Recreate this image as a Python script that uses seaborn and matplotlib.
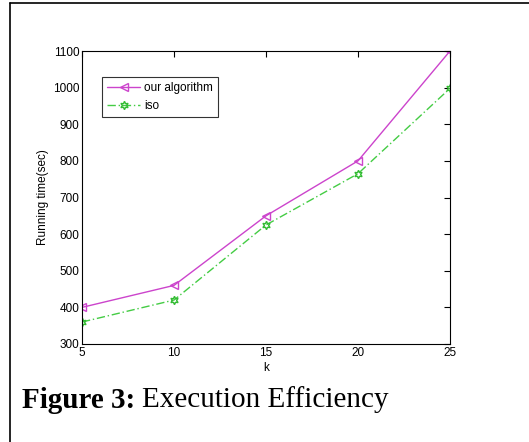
import pandas as pd
import matplotlib.pyplot as plt
import seaborn as sns
from matplotlib.lines import Line2D

# datos
k = [5, 10, 15, 20, 25]
our_algorithm = [400, 460, 650, 800, 1100]
iso = [360, 420, 625, 765, 998]

sns.set_style("white")
plt.rcParams['font.family'] = ['Liberation Sans', 'DejaVu Sans']
plt.rcParams['text.color'] = 'black'
plt.rcParams['axes.labelcolor'] = 'black'
plt.rcParams['xtick.color'] = 'black'
plt.rcParams['ytick.color'] = 'black'

fig = plt.figure(figsize=(5.29, 4.42), dpi=100)
ax = fig.add_axes([82/529, 1 - 344/442, (450-82)/529, (344-51)/442])

sns.lineplot(x=k, y=our_algorithm, ax=ax, color='#cc44cc', lw=1.0,
             marker='<', markersize=6, markerfacecolor='none',
             markeredgecolor='#cc44cc', markeredgewidth=1.0,
             label='our algorithm')
sns.lineplot(x=k, y=iso, ax=ax, color='#44cc44', lw=1.0, linestyle=(0, (6, 2, 1, 2)),
             marker=(6, 1, 0), markersize=6, markerfacecolor='none',
             markeredgecolor='#33bb33', markeredgewidth=1.0,
             label='iso')

ax.set_xlim(5, 25)
ax.set_ylim(300, 1100)
ax.set_xticks(k)
ax.set_yticks(range(300, 1101, 100))
ax.tick_params(direction='in', length=4, width=0.8, labelsize=8.5,
               top=True, right=True, pad=2)
for s in ax.spines.values():
    s.set_linewidth(0.8)
    s.set_color('black')
ax.set_xlabel('k', fontsize=8.5, labelpad=2)
ax.set_ylabel('Running time(sec)', fontsize=8.5, labelpad=3)

leg = ax.legend(loc='upper left', bbox_to_anchor=(0.054, 0.911), fontsize=8.5,
                frameon=True, fancybox=False, edgecolor='black',
                borderpad=0.45, labelspacing=0.45, handlelength=2.8,
                handletextpad=0.3, borderaxespad=0)
leg.get_frame().set_linewidth(0.8)

# marco de la pagina
fig.add_artist(Line2D([10/529, 10/529], [0, 1 - 3/442], color='black', lw=1.2))
fig.add_artist(Line2D([10/529, 1], [1 - 3/442, 1 - 3/442], color='black', lw=1.2))

t1 = fig.text(22/529, 1 - 400/442, 'Figure 3:', fontsize=21, fontweight='bold',
              family='Liberation Serif', va='center', ha='left')
fig.canvas.draw()
bb = t1.get_window_extent()
fig.text(bb.x1 / fig.bbox.width + 7/529, 1 - 400/442, 'Execution Efficiency',
         fontsize=21, family='Liberation Serif', va='center', ha='left')

fig.savefig('out.png', dpi=100)
